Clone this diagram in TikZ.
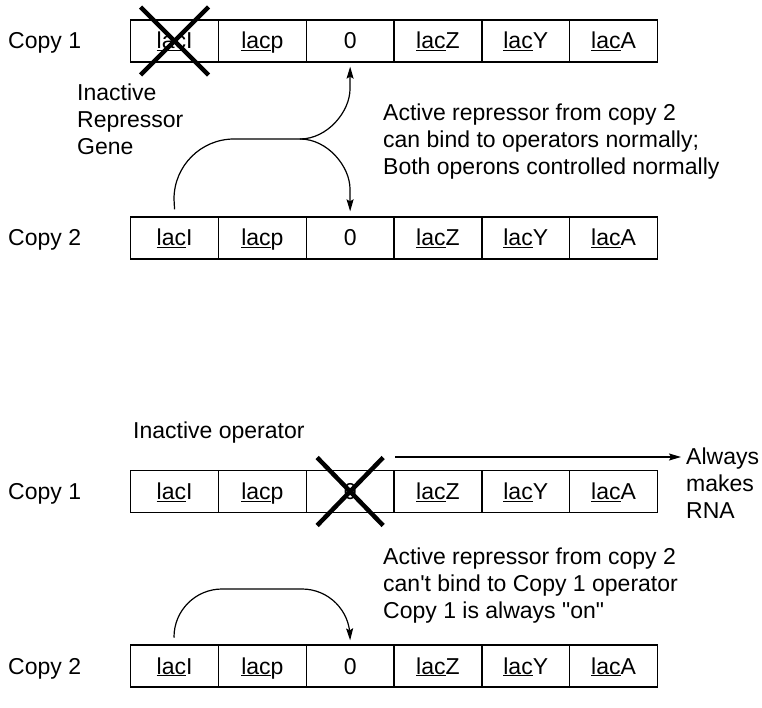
\documentclass[tikz,border=0pt]{standalone}
\usepackage{fontspec}
\setmainfont{Liberation Sans}
\usetikzlibrary{arrows.meta}
\begin{document}
\begin{tikzpicture}[x=1pt,y=-1pt,
  every node/.style={font=\fontsize{23}{27}\selectfont, inner sep=0pt},
  cell/.style={draw, line width=1.3pt, minimum width=87.8pt, minimum height=42pt,
               text height=19pt, text depth=3pt, anchor=west},
  cross/.style={line width=4.5pt},
  link/.style={line width=1.2pt},
  arr/.style={link, -{Stealth[length=12pt,width=7pt,inset=2pt]}},
  note/.style={anchor=north west, align=left}]
% page
\fill[white] (0,0) rectangle (762,708);
\useasboundingbox (0,0) rectangle (762,708);

% the four operon copies
\foreach \r/\y/\lab in {a/41/Copy 1, b/238/Copy 2, c/491.5/Copy 1, d/666/Copy 2}{
  \node[anchor=base west] (\r0) at (8,\y+8) {\lab};
  \foreach \t [count=\i] in {\underline{lac}I, \underline{lac}p, 0,
                             \underline{lac}Z, \underline{lac}Y, \underline{lac}A}
    \node[cell] (\r\i) at ({130+87.8*(\i-1)},\y) {\t};
}

% crossed-out elements
\draw[cross] ([shift={(-34,-34)}]a1.center) -- ([shift={(34,34)}]a1.center);
\draw[cross] ([shift={(34,-34)}]a1.center) -- ([shift={(-34,34)}]a1.center);
\draw[cross] ([shift={(-33,-34)}]c3.center) -- ([shift={(33,34)}]c3.center);
\draw[cross] ([shift={(33,-34)}]c3.center) -- ([shift={(-33,34)}]c3.center);

% labels
\node[note] (gene) at (77,83.5) {Inactive\\Repressor\\Gene};
\node[note] (top) at (383,104)
  {Active repressor from copy 2\\can bind to operators normally;\\Both operons controlled normally};
\node[anchor=base west] (oper) at (133,438) {Inactive operator};
\node[note] (always) at (686,448) {Always\\makes\\RNA};
\node[note] (bottom) at (383,548)
  {Active repressor from copy 2\\can\textquotesingle t bind to Copy 1 operator\\Copy 1 is always \textquotedbl on\textquotedbl};

% repressor from copy 2 reaching both operators
\coordinate (split) at (300,139);
\draw[link] ([yshift=7pt]b1.north) -- (174,199)
  .. controls (174,165.9) and (200.9,139) .. (234,139) -- (split);
\draw[arr] (split) .. controls (327.6,139) and (350,111.4) .. (350,89)
  -- ([yshift=-4pt]a3.south);
\draw[arr] (split) .. controls (327.6,139) and (350,166.6) .. (350,189)
  -- ([yshift=5pt]b3.north);

% constitutive transcription of copy 1
\coordinate (rnaS) at (395,457);
\coordinate (rnaE) at (681,457);
\draw[arr] (rnaS) -- (rnaE);

% repressor from copy 2 acting on its own operator only
\draw[arr] ([yshift=7pt]d1.north) -- (174,637)
  .. controls (174,610.5) and (195.5,589) .. (222,589) -- (302,589)
  .. controls (328.5,589) and (350,610.5) .. (350,637) -- ([yshift=4pt]d3.north);
\end{tikzpicture}
\end{document}
